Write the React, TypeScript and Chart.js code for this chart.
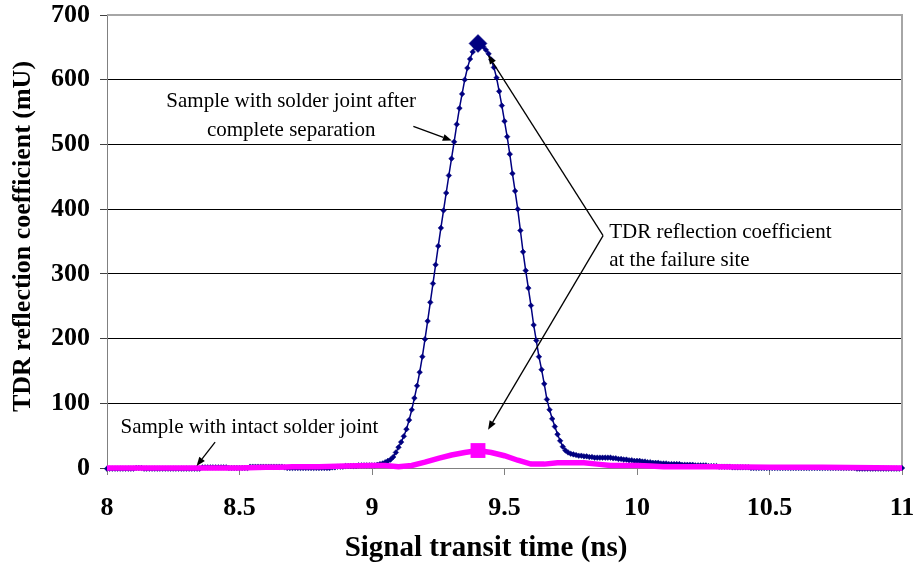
import React, { useEffect, useRef } from "react";
import { Chart, registerables } from "chart.js";

Chart.register(...registerables);

// ---------- axis settings ----------
const xMinNs = 8;
const xMaxNs = 11;
const xStepNs = 0.5;
const yMinMU = 0;
const yMaxMU = 700;
const yStepMU = 100;

const xTitle = "Signal transit time (ns)";
const yTitle = "TDR reflection coefficient (mU)";

// ---------- sample with solder joint after complete separation ----------
// sampled every 0.01 ns starting at 8.00 ns (read from picture)
const separatedStartNs = 8.0;
const separatedStepNs = 0.01;
const separatedValues = [
  // 8.00 - 8.99
  -1, -1, -1, -1, -1, -1, -1, -1, -1, -1,
  -1, 0, 0, 0, -1, -1, -1, -1, -1, -1,
  -1, -1, -1, -1, -1, -1, -1, -1, -1, -1,
  -1, -1, -1, -1, -1, -1, 1, 1, 1, 1,
  1, 1, 1, 1, 1, 1, 0, 0, 0, 0,
  0, 0, 0, 0, 2, 2, 2, 2, 2, 2,
  2, 2, 2, 2, 2, 2, 2, 1, 0, 0,
  0, 0, 0, 0, 0, 0, 0, 0, 0, 0,
  0, 0, 0, 0, 0, 1, 1, 2, 2, 2,
  3, 3, 3, 3, 3, 4, 4, 4, 4, 4,
  // 9.00 - 9.99
  4, 4, 5, 6, 7, 9, 11, 13, 17, 24,
  32, 40, 49, 60, 74, 90, 108, 127, 148, 172,
  199, 227, 256, 285, 314, 343, 371, 398, 425, 452,
  478, 504, 531, 556, 578, 600, 618, 632, 643, 651,
  656, 655, 651, 646, 640, 631, 619, 603, 582, 560,
  536, 512, 485, 455, 428, 400, 367, 334, 305, 278,
  251, 221, 197, 172, 152, 130, 106, 90, 76, 64,
  52, 42, 33, 27, 24, 22, 21, 20, 19, 19,
  18, 18, 17, 17, 16, 16, 16, 16, 16, 16,
  16, 15, 15, 14, 14, 13, 13, 12, 12, 11,
  // 10.00 - 10.99
  11, 11, 10, 10, 9, 9, 8, 8, 8, 7,
  7, 7, 6, 6, 6, 6, 6, 5, 5, 5,
  5, 5, 4, 4, 4, 4, 4, 3, 3, 3,
  3, 2, 2, 2, 2, 2, 1, 1, 1, 1,
  1, 1, 1, 0, 0, 0, 0, 0, 0, 0,
  0, 0, 0, 0, 0, 0, 0, 0, 0, 0,
  0, 0, 0, 0, 0, 0, 0, 0, 0, 0,
  0, 0, 0, 0, 0, 0, 0, 0, 0, 0,
  0, 0, 0, -1, -1, -1, -1, -1, -1, -1,
  -1, -1, -1, -1, -1, -1, -1, -1, -1, -1,
  // 11.00
  0,
];

// ---------- sample with intact solder joint ----------
const intactTimes = [
  8.0, 8.1, 8.2, 8.3, 8.4, 8.5, 8.6, 8.65, 8.7, 8.8, 8.9, 9.0, 9.05, 9.1,
  9.15, 9.2, 9.25, 9.3, 9.35, 9.4, 9.45, 9.5, 9.55, 9.6, 9.65, 9.7, 9.75,
  9.8, 9.85, 9.9, 10.0, 10.05, 10.1, 10.3, 10.5, 10.7, 11.0,
];
const intactValues = [
  0, 0, 0, 0, 0, 0, 1, 1, 2, 2, 3, 4, 4, 2,
  4, 9, 15, 20, 24, 27, 24, 19, 12, 6, 6, 8, 8,
  8, 6, 4, 4, 3, 2, 2, 1, 1, 0,
];

// ---------- annotations (positions in data units: ns, mU) ----------
const noteTexts = [
  "Sample with solder joint after",
  "complete separation",
  "TDR reflection coefficient",
  "at the failure site",
  "Sample with intact solder joint",
];
const noteX = [8.695, 8.695, 9.895, 9.895, 8.051];
const noteY = [566, 522, 364, 320, 62];
const noteAlign: CanvasTextAlign[] = ["center", "center", "left", "left", "left"];

// arrows: from (x, y) to (x, y) in data units
const arrowFromX = [9.156, 9.872, 9.872, 8.408];
const arrowFromY = [528, 359, 359, 40];
const arrowToX = [9.301, 9.438, 9.438, 8.338];
const arrowToY = [506, 638, 59, 3];

const SERIF = '"Liberation Serif", "Times New Roman", serif';
const NAVY = "#000080";
const MAGENTA = "#ff00ff";

function peakIndex(values: number[]) {
  let best = 0;
  for (let i = 1; i < values.length; i++) if (values[i] > values[best]) best = i;
  return best;
}

const framePlugin = {
  id: "frame",
  beforeDatasetsDraw(chart: any) {
    const { ctx, chartArea } = chart;
    ctx.save();
    ctx.strokeStyle = "#a6a6a6";
    ctx.lineWidth = 2;
    ctx.beginPath();
    ctx.moveTo(chartArea.left, chartArea.top);
    ctx.lineTo(chartArea.right, chartArea.top);
    ctx.lineTo(chartArea.right, chartArea.bottom);
    ctx.stroke();
    ctx.restore();
  },
  afterDraw(chart: any) {
    const { ctx, chartArea } = chart;
    ctx.save();
    ctx.fillStyle = "#000";
    ctx.textAlign = "center";
    ctx.textBaseline = "middle";
    ctx.font = `bold 29px ${SERIF}`;
    ctx.fillText(xTitle, 486, 549);
    ctx.font = `bold 26px ${SERIF}`;
    ctx.translate(23, (chartArea.top + chartArea.bottom) / 2 - 5);
    ctx.rotate(-Math.PI / 2);
    ctx.fillText(yTitle, 0, 0);
    ctx.restore();
  },
};

const annotationPlugin = {
  id: "notes",
  afterDatasetsDraw(chart: any) {
    const { ctx } = chart;
    const xs = chart.scales.x;
    const ys = chart.scales.y;
    ctx.save();
    ctx.fillStyle = "#000";
    ctx.strokeStyle = "#000";
    ctx.font = `21px ${SERIF}`;
    ctx.textBaseline = "middle";
    noteTexts.forEach((t, i) => {
      ctx.textAlign = noteAlign[i];
      ctx.fillText(t, xs.getPixelForValue(noteX[i]), ys.getPixelForValue(noteY[i]));
    });
    ctx.lineWidth = 1.3;
    arrowFromX.forEach((_, i) => {
      const x1 = xs.getPixelForValue(arrowFromX[i]);
      const y1 = ys.getPixelForValue(arrowFromY[i]);
      const x2 = xs.getPixelForValue(arrowToX[i]);
      const y2 = ys.getPixelForValue(arrowToY[i]);
      const ang = Math.atan2(y2 - y1, x2 - x1);
      const len = 9;
      const half = 3.5;
      const bx = x2 - len * Math.cos(ang);
      const by = y2 - len * Math.sin(ang);
      ctx.beginPath();
      ctx.moveTo(x1, y1);
      ctx.lineTo(bx, by);
      ctx.stroke();
      ctx.beginPath();
      ctx.moveTo(x2, y2);
      ctx.lineTo(bx + half * Math.sin(ang), by - half * Math.cos(ang));
      ctx.lineTo(bx - half * Math.sin(ang), by + half * Math.cos(ang));
      ctx.closePath();
      ctx.fill();
    });
    ctx.restore();
  },
};

export default function App() {
  const canvasRef = useRef<HTMLCanvasElement | null>(null);

  useEffect(() => {
    const canvas = canvasRef.current;
    if (!canvas) return;

    const separatedData = separatedValues.map((v, i) => ({
      x: Math.round((separatedStartNs + i * separatedStepNs) * 1000) / 1000,
      y: v,
    }));
    const intactData = intactTimes.map((t, i) => ({ x: t, y: intactValues[i] }));
    const sepPeak = peakIndex(separatedValues);
    const intPeak = peakIndex(intactValues);

    const tickFont = { family: SERIF, size: 26, weight: "bold" as const };

    const chart = new Chart(canvas, {
      type: "line",
      data: {
        datasets: [
          {
            label: "Sample with intact solder joint",
            data: intactData,
            borderColor: MAGENTA,
            backgroundColor: MAGENTA,
            borderWidth: 5.5,
            pointStyle: "rect",
            pointRadius: (c: any) => (c.dataIndex === intPeak ? 10.5 : 0),
            pointBorderWidth: 0,
            tension: 0,
            clip: false,
            order: 0,
          },
          {
            label: "Sample with solder joint after complete separation",
            data: separatedData,
            borderColor: NAVY,
            backgroundColor: NAVY,
            borderWidth: 1.5,
            pointStyle: "rectRot",
            pointRadius: (c: any) => (c.dataIndex === sepPeak ? 9 : 2.8),
            pointBorderColor: NAVY,
            pointBorderWidth: 0.5,
            tension: 0,
            clip: false,
            order: 1,
          },
        ],
      },
      options: {
        animation: false,
        responsive: false,
        layout: { padding: { top: 15, right: 12, left: 0, bottom: 0 } },
        plugins: {
          legend: { display: false },
          tooltip: { enabled: false },
        },
        scales: {
          x: {
            type: "linear",
            min: xMinNs,
            max: xMaxNs,
            ticks: {
              stepSize: xStepNs,
              font: tickFont,
              color: "#000",
              padding: 18,
              maxRotation: 0,
              autoSkip: false,
              callback: (v: any) => String(Math.round(Number(v) * 10) / 10),
            },
            grid: {
              drawOnChartArea: false,
              drawTicks: true,
              tickLength: 7,
              tickColor: "#808080",
            },
            border: { color: "#808080", width: 1 },
            afterFit: (s: any) => {
              s.height = 99;
              s.paddingLeft = 0;
              s.paddingRight = 0;
            },
          },
          y: {
            type: "linear",
            min: yMinMU,
            max: yMaxMU,
            ticks: {
              stepSize: yStepMU,
              font: tickFont,
              color: "#000",
              padding: 10,
            },
            grid: {
              color: (c: any) => (c.tick && c.tick.value === yMaxMU ? "rgba(0,0,0,0)" : "#000"),
              lineWidth: 1,
              tickLength: 7,
              tickColor: "#404040",
            },
            border: { color: "#808080", width: 1 },
            afterFit: (s: any) => {
              s.width = 107;
              s.paddingTop = 0;
              s.paddingBottom = 0;
            },
          },
        },
      },
      plugins: [framePlugin, annotationPlugin],
    });

    return () => chart.destroy();
  }, []);

  return (
    <div style={{ position: "absolute", left: 0, top: 0, width: 914, height: 567, background: "#fff" }}>
      <canvas ref={canvasRef} width={914} height={567} style={{ display: "block" }} />
    </div>
  );
}
